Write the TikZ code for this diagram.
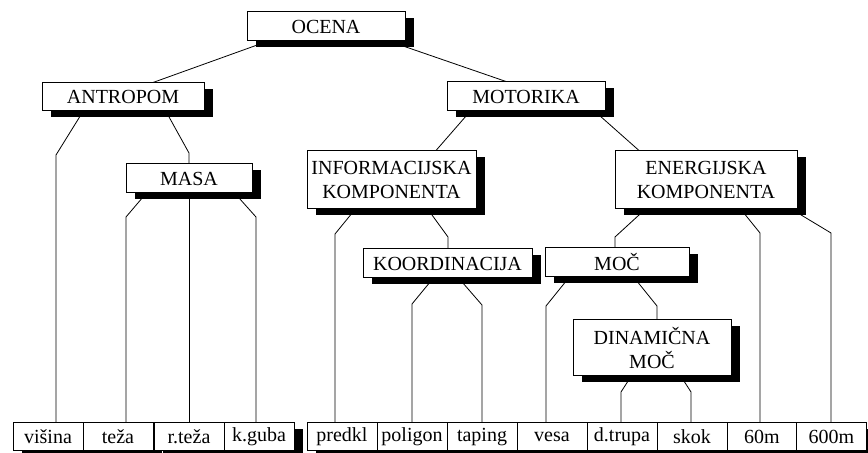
\documentclass[tikz,border=0pt]{standalone}
\usepackage{fontspec}
\setmainfont{Liberation Serif}
\usepackage{tikz}
\usetikzlibrary{shadows,backgrounds}

\begin{document}
\begin{tikzpicture}[x=0.5pt,y=-0.5pt,
  font=\fontsize{10}{12}\selectfont,
  box/.style={draw,line width=0.5pt,fill=white,inner sep=0pt,align=center,
    general shadow={fill=black,shadow xshift=4.25pt,shadow yshift=-3pt}},
  cell/.style={box,minimum width=35pt,minimum height=14pt}]
 \useasboundingbox (0,0) rectangle (868,453);
 \node[box,minimum width=79pt,minimum height=14.5pt] (ocena) at (326,26.5) {OCENA};
 \node[box,minimum width=81pt,minimum height=14pt] (antropom) at (123,97) {ANTROPOM};
 \node[box,minimum width=79pt,minimum height=14.5pt] (motorika) at (526,96.5) {MOTORIKA};
 \node[box,minimum width=63pt,minimum height=14.5pt] (masa) at (189,178.5) {MASA};
 \node[box,minimum width=84.5pt,minimum height=29pt] (info) at (391.5,180) {INFORMACIJSKA\\KOMPONENTA};
 \node[box,minimum width=91pt,minimum height=29pt] (energ) at (706,180) {ENERGIJSKA\\KOMPONENTA};
 \node[box,minimum width=84.5pt,minimum height=14.5pt] (koord) at (447.5,263.5) {KOORDINACIJA};
 \node[box,minimum width=72pt,minimum height=14.5pt] (moc) at (617,262.5) {MOČ};
 \node[box,minimum width=79pt,minimum height=28pt] (din) at (652,348) {DINAMIČNA\\MOČ};
 % listi
 \node[cell] (visina) at (48,437) {višina};
 \node[cell] (teza) at (118,437) {teža};
 \node[cell] (rteza) at (189,437) {r.teža};
 \node[cell] (kguba) at (259,437) {k.guba};
 \node[cell] (predkl) at (342,437) {predkl};
 \node[cell] (poligon) at (412,437) {poligon};
 \node[cell] (taping) at (482,437) {taping};
 \node[cell] (vesa) at (552,437) {vesa};
 \node[cell] (dtrupa) at (622,437) {d.trupa};
 \node[cell] (skok) at (692,437) {skok};
 \node[cell] (m60) at (762,437) {60m};
 \node[cell] (m600) at (831.5,437) {600m};
 \begin{scope}[on background layer,line width=0.4pt]
  \draw (267,0 |- ocena.south) -- (153,0 |- antropom.north);
  \draw (390,0 |- ocena.south) -- (506,0 |- motorika.north);
  \draw (83,0 |- antropom.south) -- (56,155) -- (56,0 |- visina.north);
  \draw (166,0 |- antropom.south) -- (189,153) -- (masa.north);
  \draw (146,0 |- masa.south) -- (126,217) -- (126,0 |- teza.north);
  \draw (masa.south) -- (rteza.north);
  \draw (235,0 |- masa.south) -- (256,217) -- (256,0 |- kguba.north);
  \draw (470,0 |- motorika.south) -- (436,0 |- info.north);
  \draw (595,0 |- motorika.south) -- (639,0 |- energ.north);
  \draw (355,0 |- info.south) -- (335,234) -- (335,0 |- predkl.north);
  \draw (428,0 |- info.south) -- (448,237) -- (448,0 |- koord.north);
  \draw (433,0 |- koord.south) -- (412,304) -- (poligon.north);
  \draw (459,0 |- koord.south) -- (482,305) -- (taping.north);
  \draw (645,0 |- energ.south) -- (615,237) -- (615,0 |- moc.north);
  \draw (741,0 |- energ.south) -- (760,233) -- (760,0 |- m60.north);
  \draw (792,0 |- energ.south) -- (831,233) -- (831,0 |- m600.north);
  \draw (569,0 |- moc.south) -- (546,306) -- (546,0 |- vesa.north);
  \draw (634,0 |- moc.south) -- (657,306) -- (657,0 |- din.north);
  \draw (631,0 |- din.south) -- (621,392) -- (621,0 |- dtrupa.north);
  \draw (681,0 |- din.south) -- (691,392) -- (691,0 |- skok.north);
 \end{scope}
\end{tikzpicture}
\end{document}
